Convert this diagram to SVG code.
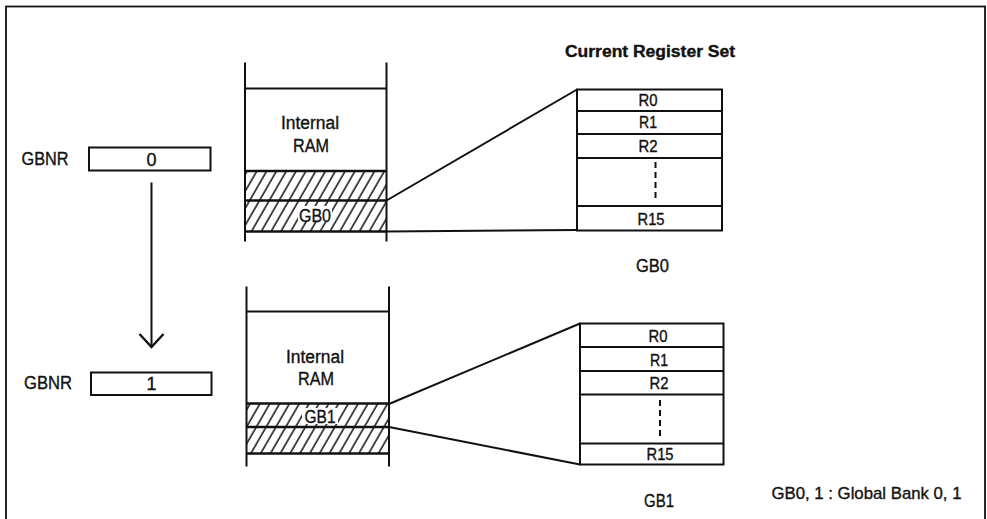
<svg xmlns="http://www.w3.org/2000/svg" width="987" height="519" viewBox="0 0 987 519">
<defs>
<pattern id="hatch" patternUnits="userSpaceOnUse" width="8.5" height="8.5" patternTransform="rotate(30)">
<line x1="2" y1="0" x2="2" y2="8.5" stroke="#111" stroke-width="1.5"/>
</pattern>
<marker id="vhead" markerWidth="30" markerHeight="30" refX="14" refY="13" orient="auto" markerUnits="userSpaceOnUse" viewBox="0 0 30 30">
<polyline points="1,1 14,13 1,25" fill="none" stroke="#111" stroke-width="2.4"/>
</marker>
<style>
.t{font-family:"Liberation Sans",Arial,sans-serif;fill:#111;text-anchor:middle;stroke:#111;stroke-width:0.35}
.ln{stroke:#111;stroke-width:2;fill:none}
.thick{stroke:#111;stroke-width:2.6;fill:none}
.box{stroke:#111;stroke-width:2;fill:#fff}
.hat{fill:url(#hatch);stroke:none}
</style>
</defs>
<rect x="6" y="6.5" width="979" height="520" fill="#fff" stroke="#111" stroke-width="1.8"/>

<text class="t" x="650" y="57" font-size="16" font-weight="bold" textLength="170" lengthAdjust="spacingAndGlyphs">Current Register Set</text>

<g id="gbnr0">
<text class="t" x="45" y="165" font-size="18" textLength="47" lengthAdjust="spacingAndGlyphs">GBNR</text>
<rect class="box" x="89" y="147.5" width="121.5" height="23"/>
<text class="t" x="151.5" y="165.5" font-size="18">0</text>
</g>

<g id="gbnr1">
<text class="t" x="48" y="389" font-size="18" textLength="48" lengthAdjust="spacingAndGlyphs">GBNR</text>
<rect class="box" x="91" y="372.5" width="120.5" height="22.5"/>
<text class="t" x="151.5" y="389.5" font-size="18">1</text>
</g>

<g id="ram0">
<rect class="hat" x="245" y="171" width="141" height="61"/>
<line class="ln" x1="245" y1="62.5" x2="245" y2="241.5"/>
<line class="ln" x1="386.5" y1="62.5" x2="386.5" y2="241.5"/>
<line class="ln" x1="245" y1="88.5" x2="386.5" y2="88.5"/>
<line class="thick" x1="245" y1="171" x2="386.5" y2="171"/>
<line class="thick" x1="245" y1="200.5" x2="386.5" y2="200.5"/>
<line class="thick" x1="245" y1="231.5" x2="386.5" y2="231.5"/>
<text class="t" x="310" y="128.5" font-size="18" textLength="58" lengthAdjust="spacingAndGlyphs">Internal</text>
<text class="t" x="311" y="151.5" font-size="18" textLength="36" lengthAdjust="spacingAndGlyphs">RAM</text>
<rect x="298" y="206" width="34" height="16" fill="#fff"/>
<text class="t" x="315" y="221.5" font-size="18" textLength="32" lengthAdjust="spacingAndGlyphs">GB0</text>
</g>

<g id="ram1">
<rect class="hat" x="247" y="403.5" width="142" height="50"/>
<line class="ln" x1="246.5" y1="286.5" x2="246.5" y2="466.5"/>
<line class="ln" x1="389" y1="286.5" x2="389" y2="466.5"/>
<line class="ln" x1="246.5" y1="311.5" x2="389" y2="311.5"/>
<line class="thick" x1="246.5" y1="403.5" x2="389" y2="403.5"/>
<line class="thick" x1="246.5" y1="427" x2="389" y2="427"/>
<line class="thick" x1="246.5" y1="453.5" x2="389" y2="453.5"/>
<text class="t" x="315" y="362.5" font-size="18" textLength="58" lengthAdjust="spacingAndGlyphs">Internal</text>
<text class="t" x="316" y="384.5" font-size="18" textLength="36" lengthAdjust="spacingAndGlyphs">RAM</text>
<rect x="302" y="408" width="36" height="16" fill="#fff"/>
<text class="t" x="320" y="422.5" font-size="18" textLength="31" lengthAdjust="spacingAndGlyphs">GB1</text>
</g>

<g id="regs0">
<rect class="box" x="577" y="89.5" width="145" height="141"/>
<line class="ln" x1="577" y1="111" x2="722" y2="111"/>
<line class="ln" x1="577" y1="134" x2="722" y2="134"/>
<line class="ln" x1="577" y1="158" x2="722" y2="158"/>
<line class="ln" x1="577" y1="206" x2="722" y2="206"/>
<line x1="655.5" y1="162" x2="655.5" y2="200" stroke="#111" stroke-width="2" stroke-dasharray="6,4"/>
<text class="t" x="648" y="106" font-size="16" textLength="19" lengthAdjust="spacingAndGlyphs">R0</text>
<text class="t" x="648" y="127.5" font-size="16" textLength="18" lengthAdjust="spacingAndGlyphs">R1</text>
<text class="t" x="648" y="152" font-size="16" textLength="19" lengthAdjust="spacingAndGlyphs">R2</text>
<text class="t" x="651" y="225" font-size="16" textLength="27" lengthAdjust="spacingAndGlyphs">R15</text>
<text class="t" x="652.5" y="272" font-size="18" textLength="33" lengthAdjust="spacingAndGlyphs">GB0</text>
</g>

<g id="regs1">
<rect class="box" x="580" y="323.5" width="143.5" height="141"/>
<line class="ln" x1="580" y1="347" x2="723.5" y2="347"/>
<line class="ln" x1="580" y1="371" x2="723.5" y2="371"/>
<line class="ln" x1="580" y1="394.5" x2="723.5" y2="394.5"/>
<line class="ln" x1="580" y1="443.5" x2="723.5" y2="443.5"/>
<line x1="660" y1="400" x2="660" y2="436" stroke="#111" stroke-width="2" stroke-dasharray="6,4"/>
<text class="t" x="658" y="341.5" font-size="16" textLength="19" lengthAdjust="spacingAndGlyphs">R0</text>
<text class="t" x="659" y="365.5" font-size="16" textLength="18" lengthAdjust="spacingAndGlyphs">R1</text>
<text class="t" x="659" y="389" font-size="16" textLength="19" lengthAdjust="spacingAndGlyphs">R2</text>
<text class="t" x="660" y="460" font-size="16" textLength="27" lengthAdjust="spacingAndGlyphs">R15</text>
<text class="t" x="659" y="507" font-size="18" textLength="30" lengthAdjust="spacingAndGlyphs">GB1</text>
</g>

<g id="connectors">
<line class="ln" x1="151.5" y1="182.5" x2="151.5" y2="347" marker-end="url(#vhead)"/>
<line class="ln" x1="386.5" y1="200.5" x2="577" y2="89.5"/>
<line class="ln" x1="386.5" y1="231.5" x2="577" y2="230"/>
<line class="ln" x1="389" y1="404" x2="580" y2="323.5"/>
<line class="ln" x1="389" y1="427" x2="580" y2="464.5"/>
</g>

<text class="t" x="866.5" y="498.5" font-size="17" textLength="190" lengthAdjust="spacingAndGlyphs">GB0, 1 : Global Bank 0, 1</text>
</svg>
